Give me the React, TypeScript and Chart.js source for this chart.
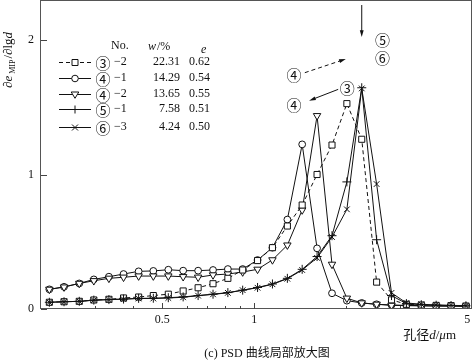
import React, { useEffect, useRef } from 'react';
import { Chart, registerables } from 'chart.js';

Chart.register(...registerables);

// ---- data ----
const poreDiameterUm = [0.213, 0.238, 0.267, 0.298, 0.334, 0.373, 0.418, 0.467, 0.523, 0.585, 0.655, 0.733, 0.82, 0.917, 1.026, 1.148, 1.285, 1.437, 1.608, 1.8, 2.014, 2.253, 2.521, 2.821, 3.157, 3.532, 3.952, 4.422, 4.948];

const psd3_2 = [0.05, 0.054, 0.057, 0.067, 0.072, 0.082, 0.089, 0.1, 0.11, 0.134, 0.158, 0.188, 0.228, 0.29, 0.36, 0.456, 0.617, 0.773, 1.0, 1.219, 1.527, 1.262, 0.2, 0.068, 0.035, 0.03, 0.027, 0.025, 0.022];
const psd4_1 = [0.146, 0.165, 0.19, 0.22, 0.24, 0.26, 0.28, 0.283, 0.292, 0.285, 0.285, 0.29, 0.297, 0.297, 0.364, 0.456, 0.665, 1.224, 0.451, 0.117, 0.062, 0.045, 0.035, 0.03, 0.027, 0.025, 0.023, 0.022, 0.02];
const psd4_2 = [0.146, 0.163, 0.19, 0.21, 0.228, 0.236, 0.245, 0.245, 0.245, 0.24, 0.236, 0.253, 0.26, 0.275, 0.295, 0.365, 0.475, 0.736, 1.437, 0.332, 0.08, 0.045, 0.035, 0.027, 0.025, 0.023, 0.022, 0.021, 0.02];
const psd5_1 = [0.05, 0.054, 0.057, 0.066, 0.07, 0.074, 0.079, 0.08, 0.084, 0.09, 0.1, 0.11, 0.122, 0.14, 0.16, 0.186, 0.228, 0.295, 0.39, 0.545, 0.945, 1.645, 0.515, 0.1, 0.04, 0.032, 0.028, 0.026, 0.024];
const psd6_3 = [0.05, 0.054, 0.057, 0.065, 0.07, 0.073, 0.078, 0.078, 0.082, 0.087, 0.099, 0.109, 0.12, 0.14, 0.158, 0.184, 0.225, 0.29, 0.38, 0.535, 0.741, 1.64, 0.929, 0.12, 0.045, 0.035, 0.03, 0.027, 0.025];

const xMajorTicks = [0.5, 1, 5];
const xTickLabels = ['0.5', '1', '5'];
const xMinorTicks = [0.3, 0.4, 0.6, 0.7, 0.8, 0.9, 2, 3, 4];
const yMajorTicks = [0, 1, 2];
const yTickLabels = ['0', '1', '2'];

const legendNo = ['③', '④', '④', '⑤', '⑥'];
const legendSub = ['−2', '−1', '−2', '−1', '−3'];
const legendW = ['22.31', '14.29', '13.65', '7.58', '4.24'];
const legendE = ['0.62', '0.54', '0.55', '0.51', '0.50'];
const legendMarker = ['rect', 'circle', 'triangle', 'cross', 'crossRot'];

// annotation labels [text, x(µm), y]
const annoLabels: [string, number, number][] = [
  ['⑤', 2.633, 2.007],
  ['⑥', 2.633, 1.87],
  ['④', 1.35, 1.747],
  ['③', 2.021, 1.647],
  ['④', 1.35, 1.52],
];
// arrows [x1, y1, x2, y2, dashed]
const annoArrows: [number, number, number, number, boolean][] = [
  [2.253, 2.26, 2.253, 2.022, false],
  [1.466, 1.757, 1.998, 1.859, true],
  [1.886, 1.633, 1.514, 1.549, false],
];

const SERIF = "'Liberation Serif', 'DejaVu Serif', 'Noto Sans CJK SC', serif";
const CIRC = "'Noto Sans CJK SC', 'DejaVu Sans', sans-serif";
const INK = '#111';

function drawMarker(ctx: CanvasRenderingContext2D, style: string, x: number, y: number) {
  ctx.save();
  ctx.strokeStyle = INK;
  ctx.fillStyle = '#fff';
  ctx.lineWidth = 1;
  ctx.setLineDash([]);
  ctx.beginPath();
  if (style === 'rect') {
    ctx.rect(x - 3, y - 3, 6, 6);
    ctx.fill();
    ctx.stroke();
  } else if (style === 'circle') {
    ctx.arc(x, y, 3.3, 0, Math.PI * 2);
    ctx.fill();
    ctx.stroke();
  } else if (style === 'triangle') {
    ctx.moveTo(x - 3.8, y - 2.5);
    ctx.lineTo(x + 3.8, y - 2.5);
    ctx.lineTo(x, y + 3.8);
    ctx.closePath();
    ctx.fill();
    ctx.stroke();
  } else if (style === 'cross') {
    ctx.moveTo(x, y - 4);
    ctx.lineTo(x, y + 4);
    ctx.moveTo(x - 4, y);
    ctx.lineTo(x + 4, y);
    ctx.stroke();
  } else {
    ctx.moveTo(x - 3, y - 3);
    ctx.lineTo(x + 3, y + 3);
    ctx.moveTo(x + 3, y - 3);
    ctx.lineTo(x - 3, y + 3);
    ctx.stroke();
  }
  ctx.restore();
}

function drawArrow(ctx: CanvasRenderingContext2D, x1: number, y1: number, x2: number, y2: number, dashed: boolean) {
  ctx.save();
  ctx.strokeStyle = INK;
  ctx.fillStyle = INK;
  ctx.lineWidth = 1;
  ctx.setLineDash(dashed ? [4, 3] : []);
  const ang = Math.atan2(y2 - y1, x2 - x1);
  const hl = 7;
  ctx.beginPath();
  ctx.moveTo(x1, y1);
  ctx.lineTo(x2 - Math.cos(ang) * hl * 0.8, y2 - Math.sin(ang) * hl * 0.8);
  ctx.stroke();
  ctx.setLineDash([]);
  ctx.beginPath();
  ctx.moveTo(x2, y2);
  ctx.lineTo(x2 - hl * Math.cos(ang - 0.28), y2 - hl * Math.sin(ang - 0.28));
  ctx.lineTo(x2 - hl * Math.cos(ang + 0.28), y2 - hl * Math.sin(ang + 0.28));
  ctx.closePath();
  ctx.fill();
  ctx.restore();
}

const decorPlugin = {
  id: 'decor',
  afterDraw(chart: any) {
    const ctx: CanvasRenderingContext2D = chart.ctx;
    const { left, right, top, bottom } = chart.chartArea;
    const xs = chart.scales.x;
    const ys = chart.scales.y;
    ctx.save();
    // frame
    ctx.strokeStyle = '#555';
    ctx.lineWidth = 1;
    ctx.setLineDash([]);
    ctx.strokeRect(Math.round(left) - 0.5, Math.round(top) - 0.5, Math.round(right - left), Math.round(bottom - top));
    // inward ticks
    ctx.strokeStyle = '#444';
    ctx.beginPath();
    yMajorTicks.forEach((v) => {
      const py = Math.round(ys.getPixelForValue(v)) + 0.5;
      ctx.moveTo(left, py);
      ctx.lineTo(left + 6, py);
    });
    xMajorTicks.forEach((v) => {
      const px = Math.round(xs.getPixelForValue(v)) + 0.5;
      ctx.moveTo(px, bottom);
      ctx.lineTo(px, bottom - 6);
    });
    xMinorTicks.forEach((v) => {
      const px = Math.round(xs.getPixelForValue(v)) + 0.5;
      ctx.moveTo(px, bottom);
      ctx.lineTo(px, bottom - 3);
    });
    ctx.stroke();

    // tick labels
    ctx.fillStyle = INK;
    ctx.font = `12px ${SERIF}`;
    ctx.textBaseline = 'middle';
    ctx.textAlign = 'right';
    yMajorTicks.forEach((v, i) => {
      ctx.fillText(yTickLabels[i], left - 7, ys.getPixelForValue(v));
    });
    ctx.textAlign = 'center';
    xMajorTicks.forEach((v, i) => {
      ctx.fillText(xTickLabels[i], xs.getPixelForValue(v), bottom + 11);
    });

    // y-axis title (rotated)
    ctx.save();
    ctx.translate(12, 88);
    ctx.rotate(-Math.PI / 2);
    ctx.fillStyle = INK;
    ctx.textBaseline = 'alphabetic';
    ctx.textAlign = 'left';
    let cx = 0;
    const piece = (t: string, font: string, dy = 0) => {
      ctx.font = font;
      ctx.fillText(t, cx, dy);
      cx += ctx.measureText(t).width;
    };
    piece('∂', `italic 13px ${SERIF}`);
    piece('e', `italic 13px ${SERIF}`);
    cx += 2;
    piece('MIP', `8px ${SERIF}`, 3);
    cx += 1;
    piece('/∂', `13px ${SERIF}`);
    piece('lg', `13px ${SERIF}`);
    piece('d', `italic 13px ${SERIF}`);
    ctx.restore();

    // x-axis title
    ctx.fillStyle = INK;
    ctx.textBaseline = 'alphabetic';
    ctx.textAlign = 'left';
    const parts: [string, string][] = [
      ['孔径', `13px ${SERIF}`],
      ['d', `italic 13px ${SERIF}`],
      ['/', `13px ${SERIF}`],
      ['μ', `italic 13px ${SERIF}`],
      ['m', `13px ${SERIF}`],
    ];
    let total = 0;
    parts.forEach(([t, f]) => { ctx.font = f; total += ctx.measureText(t).width; });
    let tx = 456 - total;
    parts.forEach(([t, f]) => { ctx.font = f; ctx.fillText(t, tx, 339); tx += ctx.measureText(t).width; });

    // caption
    ctx.font = `12px ${SERIF}`;
    ctx.textAlign = 'center';
    ctx.fillText('(c) PSD 曲线局部放大图', 267, 357);

    // legend
    const rowsY = [62, 78, 94, 109, 127];
    ctx.font = `12px ${SERIF}`;
    ctx.textBaseline = 'middle';
    ctx.textAlign = 'left';
    ctx.fillText('No.', 111, 46);
    ctx.font = `italic 12px ${SERIF}`;
    ctx.fillText('w', 148, 47);
    const ww = ctx.measureText('w').width;
    ctx.font = `12px ${SERIF}`;
    ctx.fillText('/%', 148 + ww + 1, 47);
    ctx.font = `italic 12px ${SERIF}`;
    ctx.fillText('e', 201, 50);
    rowsY.forEach((y, i) => {
      ctx.save();
      ctx.strokeStyle = INK;
      ctx.lineWidth = 1;
      ctx.setLineDash(i === 0 ? [4, 3] : []);
      ctx.beginPath();
      ctx.moveTo(59, y + 0.5);
      ctx.lineTo(91, y + 0.5);
      ctx.stroke();
      ctx.restore();
      drawMarker(ctx, legendMarker[i], 75, y + 0.5);
      ctx.fillStyle = INK;
      ctx.textAlign = 'center';
      ctx.font = `15px ${CIRC}`;
      ctx.fillText(legendNo[i], 103, y + 1);
      ctx.textAlign = 'left';
      ctx.font = `12px ${SERIF}`;
      ctx.fillText(legendSub[i], 114, y);
      ctx.textAlign = 'right';
      ctx.fillText(legendW[i], 180, y);
      ctx.textAlign = 'left';
      ctx.fillText(legendE[i], 189, y);
    });

    // annotations
    ctx.font = `15px ${CIRC}`;
    ctx.textAlign = 'center';
    ctx.textBaseline = 'middle';
    ctx.fillStyle = INK;
    annoLabels.forEach(([t, x, y]) => {
      ctx.fillText(t, xs.getPixelForValue(x), ys.getPixelForValue(y) + 1);
    });
    annoArrows.forEach(([x1, y1, x2, y2, d]) => {
      drawArrow(ctx, xs.getPixelForValue(x1), ys.getPixelForValue(y1), xs.getPixelForValue(x2), ys.getPixelForValue(y2), d);
    });
    ctx.restore();
  },
};

function series(values: number[], style: string, radius: number, dashed = false, rotation = 0) {
  return {
    data: values.map((v, i) => ({ x: poreDiameterUm[i], y: v })),
    borderColor: INK,
    borderWidth: 1,
    borderDash: dashed ? [4, 3] : [],
    backgroundColor: '#fff',
    pointStyle: style,
    pointRadius: radius,
    pointBorderWidth: 1,
    pointBorderColor: INK,
    pointBackgroundColor: '#fff',
    pointRotation: rotation,
    tension: 0,
    fill: false,
  };
}

export default function App() {
  const ref = useRef<HTMLCanvasElement>(null);
  useEffect(() => {
    const canvas = ref.current!;
    const chart = new Chart(canvas, {
      type: 'line',
      data: {
        datasets: [
          series(psd6_3, 'crossRot', 4),
          series(psd5_1, 'cross', 4.5),
          series(psd3_2, 'rect', 4.3, true),
          series(psd4_2, 'triangle', 4.3, false, 180),
          series(psd4_1, 'circle', 3.4),
        ] as any,
      },
      options: {
        responsive: false,
        animation: false,
        devicePixelRatio: 1,
        layout: { autoPadding: false, padding: { left: 0, right: 2, top: 1, bottom: 0 } },
        plugins: { legend: { display: false }, tooltip: { enabled: false } },
        elements: { line: { borderWidth: 1 } },
        scales: {
          x: {
            type: 'logarithmic',
            min: 0.2,
            max: 5.18,
            afterBuildTicks: (s: any) => { s.ticks = xMajorTicks.map((v) => ({ value: v })); },
            afterFit: (s: any) => { s.height = 52; },
            grid: { display: false, drawTicks: false },
            border: { display: false },
            ticks: { display: false },
          },
          y: {
            min: 0,
            max: 2.29,
            afterBuildTicks: (s: any) => { s.ticks = yMajorTicks.map((v) => ({ value: v })); },
            afterFit: (s: any) => { s.width = 41; },
            grid: { display: false, drawTicks: false },
            border: { display: false },
            ticks: { display: false },
          },
        },
      } as any,
      plugins: [decorPlugin],
    });
    return () => chart.destroy();
  }, []);
  return (
    <div style={{ position: 'absolute', left: 0, top: 0, width: 474, height: 361, background: '#fff' }}>
      <canvas ref={ref} width={474} height={361} style={{ display: 'block' }} />
    </div>
  );
}
